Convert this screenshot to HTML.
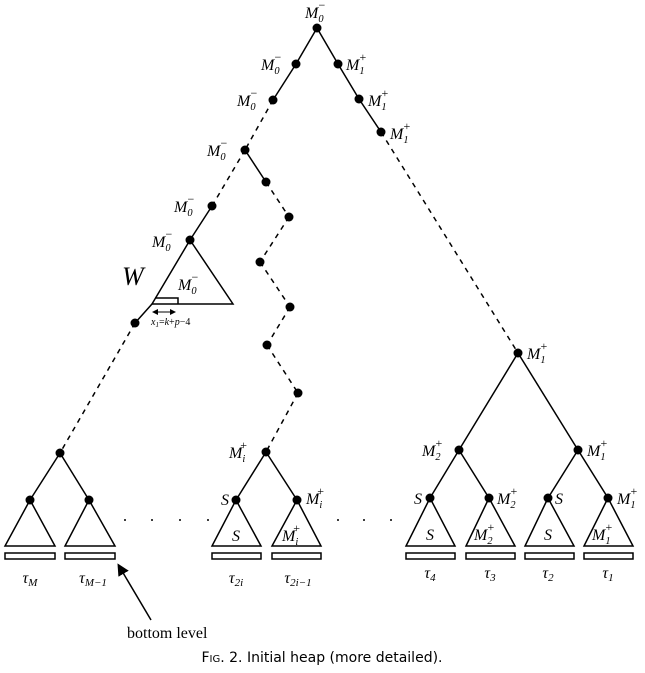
<!DOCTYPE html>
<html><head><meta charset="utf-8"><style>
body{margin:0;background:#fff;width:645px;height:668px;overflow:hidden}
svg text{font-family:"Liberation Serif",serif;font-style:italic;fill:#000}
</style></head><body>
<svg id="s" width="645" height="668" viewBox="0 0 645 668" xmlns="http://www.w3.org/2000/svg">
<g id="g" stroke="#000" stroke-width="1.5" fill="none"></g>
<g id="t"></g>
<text x="122" y="285" font-size="26">W</text>
<text x="151" y="325" font-size="10">x<tspan font-size="7" dy="2">1</tspan><tspan dy="-2" font-style="normal">=</tspan>k<tspan font-style="normal">+</tspan>p<tspan font-style="normal">−4</tspan></text>
<text x="127" y="638" font-size="16" style="font-style:normal">bottom level</text>
<text x="322" y="662" font-size="14" text-anchor="middle" style="font-style:normal;font-family:'DejaVu Sans',sans-serif">F<tspan font-size="10">IG</tspan>. 2.    Initial heap (more detailed).</text>
</svg>
<script>
const NS="http://www.w3.org/2000/svg";
const g=document.getElementById('g'),t=document.getElementById('t');
function mk(tag,a,parent){const e=document.createElementNS(NS,tag);for(const k in a)e.setAttribute(k,a[k]);(parent||g).appendChild(e);return e;}
function ln(x1,y1,x2,y2,d){const e=mk('line',{x1,y1,x2,y2});if(d)e.setAttribute('stroke-dasharray','5,5');

}
function dot(x,y){const e=mk('circle',{cx:x,cy:y,r:4.5,fill:'#000',stroke:'none'});

}
function lab(x,y,sub,sup,anchor,fs){fs=fs||16;const e=mk('text',{x,y,'font-size':fs,'text-anchor':anchor||'start'},t);
e.innerHTML='M<tspan font-size="'+(fs*0.65)+'" dy="4">'+sub+'</tspan><tspan font-size="'+(fs*0.75)+'" dx="-5" dy="-13" font-style="normal">'+sup+'</tspan>';

}
function S(x,y,fs){const e=mk('text',{x,y,'font-size':fs||16,'text-anchor':'middle'},t);e.textContent='S';

}
function tau(x,y,sub){const e=mk('text',{x,y,'font-size':16,'text-anchor':'middle'},t);
e.innerHTML='τ<tspan font-size="11" dy="3">'+sub+'</tspan>';

}
function leaf(ax,ay,bl,br){const p=mk('polygon',{points:ax+','+ay+' '+bl+',546 '+br+',546'});


const r=mk('rect',{x:bl,y:553,width:br-bl,height:6});

}
ln(317,28,296,64);ln(296,64,273,100);ln(273,100,245,150,1);ln(245,150,212,206,1);ln(212,206,190,240);
ln(317,28,338,64);ln(338,64,359,99);ln(359,99,381,132);ln(381,132,518,353,1);
const w=mk('polygon',{points:'190,240 152,304 233,304'});


mk('polyline',{points:'155,298 178,298 178,304'});
ln(152,304,135,323);
mk('line',{x1:153,y1:312,x2:175,y2:312,'stroke-width':1,'marker-start':'url(#a)','marker-end':'url(#a)'});
ln(135,323,60,453,1);
ln(245,150,266,182);ln(266,182,289,217,1);ln(289,217,260,262,1);ln(260,262,290,307,1);ln(290,307,267,345,1);ln(267,345,298,393,1);ln(298,393,266,452,1);
[[317,28],[296,64],[273,100],[245,150],[212,206],[190,240],[338,64],[359,99],[381,132],[135,323],[266,182],[289,217],[260,262],[290,307],[267,345],[298,393]].forEach(p=>dot(p[0],p[1]));
ln(60,453,30,500);ln(60,453,89,500);dot(60,453);dot(30,500);dot(89,500);
leaf(30,500,5,55);leaf(89,500,65,115);
ln(266,452,236,500);ln(266,452,297,500);dot(266,452);dot(236,500);dot(297,500);
leaf(236,500,212,261);leaf(297,500,272,321);
ln(518,353,459,450);ln(518,353,578,450);ln(459,450,430,498);ln(459,450,489,498);ln(578,450,548,498);ln(578,450,608,498);
[[518,353],[459,450],[578,450],[430,498],[489,498],[548,498],[608,498]].forEach(p=>dot(p[0],p[1]));
leaf(430,498,406,455);leaf(489,498,466,515);leaf(548,498,525,574);leaf(608,498,584,633);
[125,152,180,208,338,364,391].forEach(x=>{const e=mk('circle',{cx:x,cy:520,r:1,fill:'#000',stroke:'none'});

});
mk('line',{x1:151,y1:620,x2:119,y2:566,'marker-end':'url(#a2)'});
const d=mk('defs',{},document.getElementById('s'));
d.innerHTML='<marker id="a" markerWidth="6" markerHeight="6" refX="5" refY="3" orient="auto-start-reverse"><path d="M0,0L6,3L0,6z" fill="#000"/></marker><marker id="a2" markerWidth="8" markerHeight="8" refX="6" refY="4" orient="auto"><path d="M0,0L8,4L0,8z" fill="#000"/></marker>';
lab(305,18,'0','−');lab(261,70,'0','−');lab(346,70,'1','+');lab(237,106,'0','−');lab(368,106,'1','+');
lab(390,139,'1','+');lab(207,156,'0','−');lab(174,212,'0','−');lab(152,247,'0','−');lab(178,290,'0','−');
lab(527,359,'1','+');lab(422,456,'2','+');lab(587,456,'1','+');
lab(229,458,'i','+');lab(306,504,'i','+');lab(282,541,'i','+');
lab(497,504,'2','+');lab(474,540,'2','+');lab(617,504,'1','+');lab(592,540,'1','+');
S(418,504);S(559,504);S(225,505);S(236,541);S(430,540);S(548,540);
tau(30,583,'M');tau(93,583,'M−1');tau(236,583,'2i');tau(298,583,'2i−1');
tau(430,578,'4');tau(490,578,'3');tau(548,578,'2');tau(608,578,'1');
</script>
</body></html>
